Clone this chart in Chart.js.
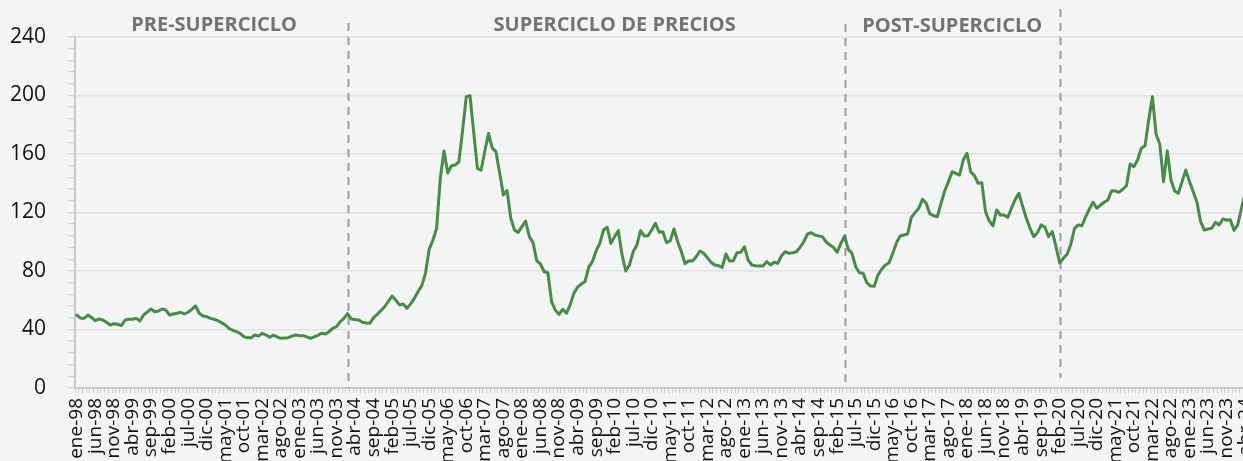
<!DOCTYPE html>
<html>
<head>
<meta charset="utf-8">
<script src="https://cdn.jsdelivr.net/npm/chart.js@4.4.1/dist/chart.umd.min.js"></script>
<style>
	html, body { margin: 0; padding: 0; overflow: hidden; background: #f3f5f4; }
	.chart-wrap { width: 1247px; height: 461px; }
</style>
</head>
<body>
<div class="chart-wrap"><canvas id="chart"></canvas></div>
<script>
// data

const monthNames = ['ene', 'feb', 'mar', 'abr', 'may', 'jun', 'jul', 'ago', 'sep', 'oct', 'nov', 'dic'];
const firstYear = 1998, lastYear = 2024, lastMonth = 3;

const categories = [];
for (let y = firstYear; y <= lastYear; y++) {
	for (let m = 0; m < 12; m++) {
		if (y === lastYear && m > lastMonth) break;
		categories.push(monthNames[m] + '-' + String(y).slice(2));
	}
}

const priceIndex = [
	49.9, 47.7, 47.7, 49.9, 48.1, 46, 47.2, 46.5, 44.9, 43.1,
	44, 43.6, 42.6, 46.5, 47, 47, 47.6, 45.8, 49.9, 52,
	54, 52.2, 52.7, 54, 53.3, 49.9, 50.6, 51.1, 51.8, 50.6,
	51.8, 53.8, 56.1, 51.1, 49.2, 48.8, 47.6, 47, 46, 44.7,
	43.1, 40.8, 39.5, 38.5, 37.4, 35.1, 34.4, 34.4, 36.2, 35.5,
	37.4, 36.2, 34.7, 36.2, 35, 34, 34.2, 34.4, 35.5, 36.2,
	35.8, 35.8, 35, 34, 35, 36, 37.4, 36.9, 38.5, 40.8,
	41.9, 45.3, 47.6, 50.8, 47.2, 46.8, 46.5, 44.9, 44.5, 44.2,
	48.1, 50.4, 53, 55.6, 59.2, 62.9, 60, 56.8, 57.4, 54.5,
	57.5, 61.3, 66, 70, 78.4, 95, 101, 109.2, 143.4, 162,
	147, 152, 152.5, 154.5, 176, 199.2, 199.9, 175, 150.2, 149,
	162, 174, 164, 161.6, 147, 132, 135, 116, 108, 106.4,
	110.3, 114.2, 103.5, 99.4, 87, 84.8, 79.5, 78.8, 59, 53.3,
	50.4, 53.8, 51.1, 56.8, 64.7, 68.9, 71.1, 72.7, 82.5, 86.4,
	93.7, 98.9, 108, 109.9, 98.9, 103.5, 107.6, 91, 80, 84.1,
	93.2, 97.8, 107.6, 103.9, 104.1, 108, 112.6, 106.5, 106.9, 99.4,
	100.7, 108.7, 100, 93.2, 85, 87, 86.8, 89.8, 93.7, 92.1,
	89.1, 86, 84.1, 83.6, 82.5, 91.6, 86.8, 87, 92.5, 92.8,
	96.6, 87.5, 84.1, 83.6, 83.4, 83.4, 86.4, 84.1, 86, 85.3,
	90.5, 93.2, 92.1, 92.5, 93.2, 96.2, 100, 105.3, 106.2, 104.6,
	104, 103.5, 100, 97.8, 96.2, 92.8, 98.9, 103.9, 94.8, 92.1,
	82.9, 78.8, 78.4, 72, 69.7, 69.5, 77.3, 81.2, 84.1, 85.7,
	92.1, 99.4, 103.9, 104.6, 105.3, 116.7, 119.9, 122.9, 129, 126.3,
	119, 117.8, 117.1, 126.3, 134.7, 141.1, 147.9, 146.8, 145.6, 155.9,
	160.5, 147.9, 145.2, 140, 140.4, 120.6, 114.2, 110.8, 121.7, 118.3,
	118.3, 116.7, 122.9, 129, 133.1, 124.4, 116, 109.2, 103.5, 106.2,
	111.5, 109.9, 103.5, 106.9, 96.6, 85.5, 88.7, 91.4, 98.3, 109.2,
	111.5, 111, 117, 122.4, 127, 122.9, 125.1, 127, 128.6, 134.9,
	134.7, 133.8, 135.9, 138.3, 153.2, 151.3, 155.9, 163.9, 165.7, 183.3,
	199.2, 173.5, 166.6, 141.1, 162.3, 142.2, 134.7, 133.1, 141.1, 149,
	141.1, 134.2, 127, 113.7, 108, 108.7, 109.2, 113.3, 111.5, 115.6,
	114.7, 115.1, 107.8, 111.5, 122.9, 133.1
];

// period dividers (category index) and titles
const dividerIndex = [73, 207, 265];
const periodNames = ['PRE-SUPERCICLO', 'SUPERCICLO DE PRECIOS', 'POST-SUPERCICLO'];
const periodCenter = [37, 145, 236];

const yMax = 240, yStep = 40, yMinorStep = 8;


// periods plugin

const periodsPlugin = {
	id: 'periods',
	beforeDatasetsDraw(chart, args, opts) {
		const {ctx} = chart;
		const x = chart.scales.x;
		ctx.save();
		ctx.strokeStyle = '#9c9c9c';
		ctx.lineWidth = 2;
		ctx.setLineDash([8, 6]);
		dividerIndex.forEach((idx, k) => {
			const px = Math.round(x.getPixelForValue(idx)) + 0.5;
			ctx.beginPath();
			ctx.moveTo(px, opts.tops[k]);
			ctx.lineTo(px, opts.bottoms[k]);
			ctx.stroke();
		});
		ctx.restore();
	},
	afterDraw(chart, args, opts) {
		const {ctx} = chart;
		const x = chart.scales.x;
		ctx.save();
		ctx.font = 'bold 20px "Open Sans"';
		ctx.fillStyle = '#737373';
		ctx.textAlign = 'center';
		ctx.textBaseline = 'middle';
		periodNames.forEach((name, k) => {
			ctx.fillText(name, x.getPixelForValue(periodCenter[k]), opts.textY[k]);
		});
		ctx.restore();
	}
};


// chart settings

const axisGrey = '#c9c9c9';
const gridGrey = '#e1e3e2';

new Chart(document.getElementById('chart'), {
	type: 'line',
	data: {
		labels: categories,
		datasets: [{
			label: 'Índice',
			data: priceIndex,
			borderColor: '#488a48',
			borderWidth: 3,
			borderJoinStyle: 'round',
			borderCapStyle: 'round',
			pointRadius: 0,
			tension: 0
		}]
	},
	options: {
		responsive: true,
		maintainAspectRatio: false,
		animation: false,
		events: [],
		layout: {
			padding: {top: 37, left: 0, right: 0, bottom: 0}
		},
		scales: {
			x: {
				type: 'category',
				offset: true,
				afterFit(scale) {
					scale.paddingLeft = 0;
					scale.paddingRight = 0;
					scale.height = 73;
				},
				grid: {
					offset: true,
					drawOnChartArea: false,
					tickLength: 5,
					tickColor: axisGrey,
					tickWidth: 1
				},
				border: {color: axisGrey, width: 2},
				ticks: {
					autoSkip: false,
					maxRotation: 90,
					minRotation: 90,
					padding: 5,
					color: '#111111',
					font: {family: '"Open Sans"', size: 19},
					callback: (value, index) => index % 5 === 0 ? categories[index] : ''
				}
			},
			y: {
				min: 0,
				max: yMax,
				afterFit(scale) {
					scale.width = 75;
				},
				grid: {
					color: (c) => (c.tick && c.tick.value > 0 && c.tick.value % yStep === 0) ? gridGrey : 'rgba(0,0,0,0)',
					lineWidth: 1.5,
					tickLength: 7,
					tickColor: axisGrey,
					tickWidth: 1
				},
				border: {color: axisGrey, width: 2},
				ticks: {
					stepSize: yMinorStep,
					autoSkip: false,
					padding: 22,
					color: '#111111',
					font: {family: '"Open Sans"', size: 21},
					callback: (value) => value % yStep === 0 ? value : ''
				}
			}
		},
		plugins: {
			legend: false,
			tooltip: {enabled: false},
			periods: {
				tops: [23, 24, 9],
				bottoms: [388, 388, 378],
				textY: [25, 25, 26]
			}
		}
	},
	plugins: [periodsPlugin]
});
</script>
</body>
</html>
